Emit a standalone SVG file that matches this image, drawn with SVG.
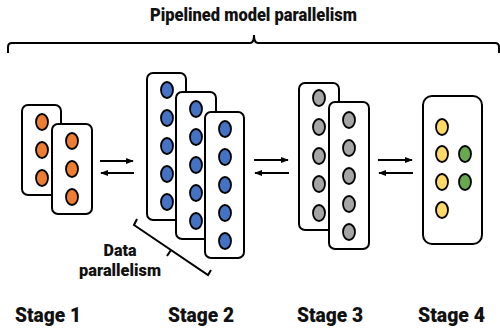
<svg xmlns="http://www.w3.org/2000/svg" width="500" height="331" viewBox="0 0 500 331">
<defs>
<style>
.box{fill:#fff;stroke:#000;stroke-width:2}
.n{stroke:#000;stroke-width:1.8}
.o{fill:#ED7D31}.b{fill:#4472C4}.g{fill:#A5A5A5}.y{fill:#FFD966}.gr{fill:#6AA84F}
.t{font-family:Roboto,"Liberation Sans",sans-serif;font-weight:900;fill:#111}
.ln{fill:none;stroke:#000;stroke-width:2}
.ar{stroke:#000;stroke-width:2;fill:none}
</style>
<marker id="ah" viewBox="0 0 10 10" refX="9" refY="5" markerWidth="4" markerHeight="4" orient="auto" markerUnits="strokeWidth">
<path d="M0,1 L10,5 L0,9 Z" fill="#000"/>
</marker>
</defs>
<rect width="500" height="331" fill="#fff"/>

<g id="title">
<text class="t" x="253.5" y="20.5" font-size="18" text-anchor="middle" textLength="207" lengthAdjust="spacingAndGlyphs">Pipelined model parallelism</text>
<path class="ln" d="M8,53 L8,47 Q8,43 12,43 L250,43 Q254,43 254,35 Q254,43 258,43 L495,43 Q499,43 499,47 L499,53"/>
</g>

<g id="stage1">
<rect class="box" x="22" y="105" width="39" height="90" rx="6"/>
<ellipse class="n o" cx="42" cy="122" rx="6" ry="8"/>
<ellipse class="n o" cx="42" cy="150" rx="6" ry="8"/>
<ellipse class="n o" cx="42" cy="178" rx="6" ry="8"/>
<rect class="box" x="52" y="124" width="40" height="90" rx="6"/>
<ellipse class="n o" cx="72" cy="141" rx="6" ry="8"/>
<ellipse class="n o" cx="72" cy="169" rx="6" ry="8"/>
<ellipse class="n o" cx="72" cy="197" rx="6" ry="8"/>
</g>

<g id="stage2">
<rect class="box" x="147" y="73" width="39" height="147" rx="6"/>
<ellipse class="n b" cx="167" cy="90" rx="6" ry="8"/>
<ellipse class="n b" cx="167" cy="118" rx="6" ry="8"/>
<ellipse class="n b" cx="167" cy="146" rx="6" ry="8"/>
<ellipse class="n b" cx="167" cy="174" rx="6" ry="8"/>
<ellipse class="n b" cx="167" cy="202" rx="6" ry="8"/>
<rect class="box" x="176" y="92" width="40" height="147" rx="6"/>
<ellipse class="n b" cx="196" cy="109" rx="6" ry="8"/>
<ellipse class="n b" cx="196" cy="137" rx="6" ry="8"/>
<ellipse class="n b" cx="196" cy="165" rx="6" ry="8"/>
<ellipse class="n b" cx="196" cy="193" rx="6" ry="8"/>
<ellipse class="n b" cx="196" cy="221" rx="6" ry="8"/>
<rect class="box" x="205" y="112" width="39" height="146" rx="6"/>
<ellipse class="n b" cx="225" cy="129" rx="6" ry="8"/>
<ellipse class="n b" cx="225" cy="157" rx="6" ry="8"/>
<ellipse class="n b" cx="225" cy="185" rx="6" ry="8"/>
<ellipse class="n b" cx="225" cy="213" rx="6" ry="8"/>
<ellipse class="n b" cx="225" cy="241" rx="6" ry="8"/>
</g>

<g id="stage3">
<rect class="box" x="299" y="83" width="40" height="147" rx="6"/>
<ellipse class="n g" cx="319" cy="98" rx="6" ry="8"/>
<ellipse class="n g" cx="319" cy="127" rx="6" ry="8"/>
<ellipse class="n g" cx="319" cy="156" rx="6" ry="8"/>
<ellipse class="n g" cx="319" cy="184" rx="6" ry="8"/>
<ellipse class="n g" cx="319" cy="213" rx="6" ry="8"/>
<rect class="box" x="329" y="102" width="40" height="147" rx="6"/>
<ellipse class="n g" cx="349" cy="120" rx="6" ry="8"/>
<ellipse class="n g" cx="349" cy="148" rx="6" ry="8"/>
<ellipse class="n g" cx="349" cy="176" rx="6" ry="8"/>
<ellipse class="n g" cx="349" cy="204" rx="6" ry="8"/>
<ellipse class="n g" cx="349" cy="232" rx="6" ry="8"/>
</g>

<g id="stage4">
<rect class="box" x="423" y="96" width="59" height="148" rx="9"/>
<ellipse class="n y" cx="442" cy="127" rx="6" ry="8"/>
<ellipse class="n y" cx="442" cy="154" rx="6" ry="8"/>
<ellipse class="n y" cx="442" cy="182" rx="6" ry="8"/>
<ellipse class="n y" cx="442" cy="210" rx="6" ry="8"/>
<ellipse class="n gr" cx="465" cy="154" rx="6" ry="8"/>
<ellipse class="n gr" cx="465" cy="182" rx="6" ry="8"/>
</g>

<g id="connectors">
<line class="ar" x1="100" y1="161" x2="133" y2="161" marker-end="url(#ah)"/>
<line class="ar" x1="134" y1="173" x2="101" y2="173" marker-end="url(#ah)"/>
<line class="ar" x1="254" y1="160" x2="288" y2="160" marker-end="url(#ah)"/>
<line class="ar" x1="289" y1="173" x2="255" y2="173" marker-end="url(#ah)"/>
<line class="ar" x1="378" y1="160" x2="412" y2="160" marker-end="url(#ah)"/>
<line class="ar" x1="413" y1="173" x2="379" y2="173" marker-end="url(#ah)"/>
</g>

<g id="data-parallelism">
<path class="ln" d="M137,219 L134,225 L208,275 L211,270"/>
<path class="ln" d="M171,250 L167,256"/>
<text class="t" x="120" y="256" font-size="17" text-anchor="middle" textLength="33" lengthAdjust="spacingAndGlyphs">Data</text>
<text class="t" x="120" y="276" font-size="17" text-anchor="middle" textLength="82" lengthAdjust="spacingAndGlyphs">parallelism</text>
</g>

<g id="labels">
<text class="t" x="48" y="322" font-size="21" text-anchor="middle" textLength="66" lengthAdjust="spacingAndGlyphs">Stage 1</text>
<text class="t" x="201" y="322" font-size="21" text-anchor="middle" textLength="66" lengthAdjust="spacingAndGlyphs">Stage 2</text>
<text class="t" x="330" y="322" font-size="21" text-anchor="middle" textLength="66" lengthAdjust="spacingAndGlyphs">Stage 3</text>
<text class="t" x="451.5" y="322" font-size="21" text-anchor="middle" textLength="67" lengthAdjust="spacingAndGlyphs">Stage 4</text>
</g>
</svg>
